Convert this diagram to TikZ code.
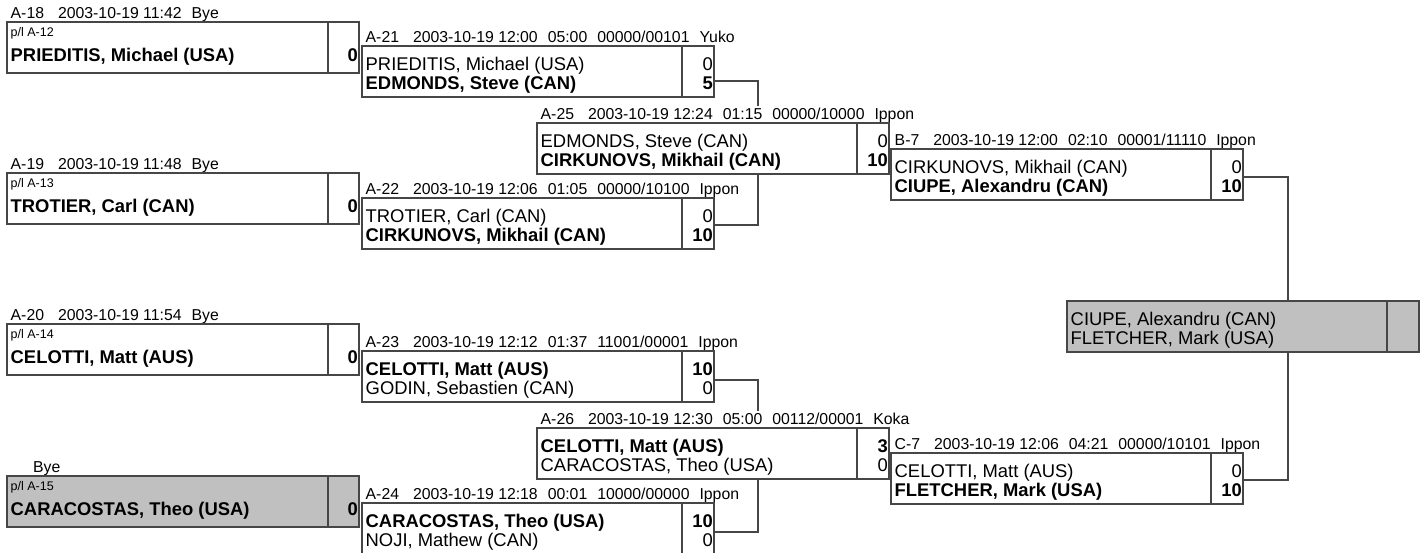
\documentclass[tikz,border=0pt]{standalone}
\usepackage{fontspec}
\setmainfont{Liberation Sans}
\usetikzlibrary{calc,backgrounds}
\definecolor{linecol}{RGB}{70,70,70}
\definecolor{byegray}{RGB}{192,192,192}
\tikzset{
  box/.style={draw=linecol, line width=1.1pt, fill=white, minimum width=352pt, minimum height=51pt, inner sep=0pt, outer sep=0pt, anchor=north west},
  graybox/.style={box, fill=byegray},
  divline/.style={draw=linecol, line width=1.1pt},
  conn/.style={draw=linecol, line width=1.1pt},
  hdr/.style={anchor=base west, inner xsep=0pt, inner ysep=1.5pt, fill=white, text height=12pt, text depth=3pt, font=\fontsize{15.8}{18}\selectfont},
  lbl/.style={anchor=base west, inner sep=0pt, font=\fontsize{12.5}{14}\selectfont},
  nm/.style={anchor=base west, inner sep=0pt, font=\fontsize{18.4}{21}\selectfont},
  sc/.style={anchor=base east, inner sep=0pt, font=\fontsize{18.4}{21}\selectfont},
}
\newcommand{\hdrtext}[5]{#1\hspace{14pt}#2\hspace{10pt}#3\hspace{10pt}#4\hspace{10pt}#5}
\newcommand{\byetext}[2]{#1\hspace{14pt}#2\hspace{10pt}Bye}
% name, x, y, style, header x offset, header, label, player
\newcommand{\firstbox}[8]{%
  \node[hdr] (#1-h) at ($(#2,#3)+(#5pt,4pt)$) {#6};
  \node[#4] (#1) at (#2,#3) {};
  \draw[divline] ($(#1.north west)+(321pt,0)$) -- ($(#1.south west)+(321pt,0)$);
  \node[lbl] (#1-l) at ($(#1.north west)+(3.5pt,-14pt)$) {#7};
  \node[nm] (#1-n) at ($(#1.north west)+(3.5pt,-39pt)$) {\bfseries #8};
  \node[sc] (#1-s) at ($(#1.north east)+(-1pt,-39pt)$) {\bfseries 0};
}
% name, x, y, style, header, name1, score1, name2, score2
\newcommand{\matchtwo}[9]{%
  \node[hdr] (#1-h) at ($(#2,#3)+(3.5pt,4pt)$) {#5};
  \node[#4] (#1) at (#2,#3) {};
  \draw[divline] ($(#1.north west)+(320pt,0)$) -- ($(#1.south west)+(320pt,0)$);
  \node[nm] (#1-a) at ($(#1.north west)+(3.5pt,-24pt)$) {#6};
  \node[sc] (#1-as) at ($(#1.north east)+(-1pt,-24pt)$) {#7};
  \node[nm] (#1-b) at ($(#1.north west)+(3.5pt,-43pt)$) {#8};
  \node[sc] (#1-bs) at ($(#1.north east)+(-1pt,-43pt)$) {#9};
}
\begin{document}
\begin{tikzpicture}[x=1pt,y=-1pt]
\useasboundingbox (0,0) rectangle (1420,552);

% round 1
\firstbox{a18}{7}{22}{box}{3.5}{\byetext{A-18}{2003-10-19 11:42}}{p/l A-12}{PRIEDITIS, Michael (USA)}
\firstbox{a19}{7}{173}{box}{3.5}{\byetext{A-19}{2003-10-19 11:48}}{p/l A-13}{TROTIER, Carl (CAN)}
\firstbox{a20}{7}{324}{box}{3.5}{\byetext{A-20}{2003-10-19 11:54}}{p/l A-14}{CELOTTI, Matt (AUS)}
\firstbox{bye}{7}{476}{graybox}{26}{Bye}{p/l A-15}{CARACOSTAS, Theo (USA)}

% round 2
\matchtwo{a21}{362}{46}{box}{\hdrtext{A-21}{2003-10-19 12:00}{05:00}{00000/00101}{Yuko}}{PRIEDITIS, Michael (USA)}{0}{\bfseries EDMONDS, Steve (CAN)}{\bfseries 5}
\matchtwo{a22}{362}{198}{box}{\hdrtext{A-22}{2003-10-19 12:06}{01:05}{00000/10100}{Ippon}}{TROTIER, Carl (CAN)}{0}{\bfseries CIRKUNOVS, Mikhail (CAN)}{\bfseries 10}
\matchtwo{a23}{362}{351}{box}{\hdrtext{A-23}{2003-10-19 12:12}{01:37}{11001/00001}{Ippon}}{\bfseries CELOTTI, Matt (AUS)}{\bfseries 10}{GODIN, Sebastien (CAN)}{0}
\matchtwo{a24}{362}{503}{box}{\hdrtext{A-24}{2003-10-19 12:18}{00:01}{10000/00000}{Ippon}}{\bfseries CARACOSTAS, Theo (USA)}{\bfseries 10}{NOJI, Mathew (CAN)}{0}

% round 3
\matchtwo{a25}{537}{123}{box}{\hdrtext{A-25}{2003-10-19 12:24}{01:15}{00000/10000}{Ippon}}{EDMONDS, Steve (CAN)}{0}{\bfseries CIRKUNOVS, Mikhail (CAN)}{\bfseries 10}
\matchtwo{a26}{537}{428}{box}{\hdrtext{A-26}{2003-10-19 12:30}{05:00}{00112/00001}{Koka}}{\bfseries CELOTTI, Matt (AUS)}{\bfseries 3}{CARACOSTAS, Theo (USA)}{0}

% round 4
\matchtwo{b7}{891}{149}{box}{\hdrtext{B-7}{2003-10-19 12:00}{02:10}{00001/11110}{Ippon}}{CIRKUNOVS, Mikhail (CAN)}{0}{\bfseries CIUPE, Alexandru (CAN)}{\bfseries 10}
\matchtwo{c7}{891}{453}{box}{\hdrtext{C-7}{2003-10-19 12:06}{04:21}{00000/10101}{Ippon}}{CELOTTI, Matt (AUS)}{0}{\bfseries FLETCHER, Mark (USA)}{\bfseries 10}

% final
\matchtwo{fin}{1067}{301}{graybox}{}{CIUPE, Alexandru (CAN)}{}{FLETCHER, Mark (USA)}{}

% connectors
\coordinate (j1) at (758,150);
\coordinate (j2) at (758,456);
\coordinate (j3) at (1288,330);
\begin{scope}[on background layer]
\draw[conn] ($(a21.north east)+(0,-35pt)$) -| (j1) |- ($(a22.north east)+(0,-27pt)$);
\draw[conn] ($(a23.north east)+(0,-29pt)$) -| (j2) |- ($(a24.north east)+(0,-29pt)$);
\draw[conn] ($(b7.north east)+(0,-28pt)$) -| (j3) |- ($(c7.north east)+(0,-27pt)$);
\end{scope}
\end{tikzpicture}
\end{document}
